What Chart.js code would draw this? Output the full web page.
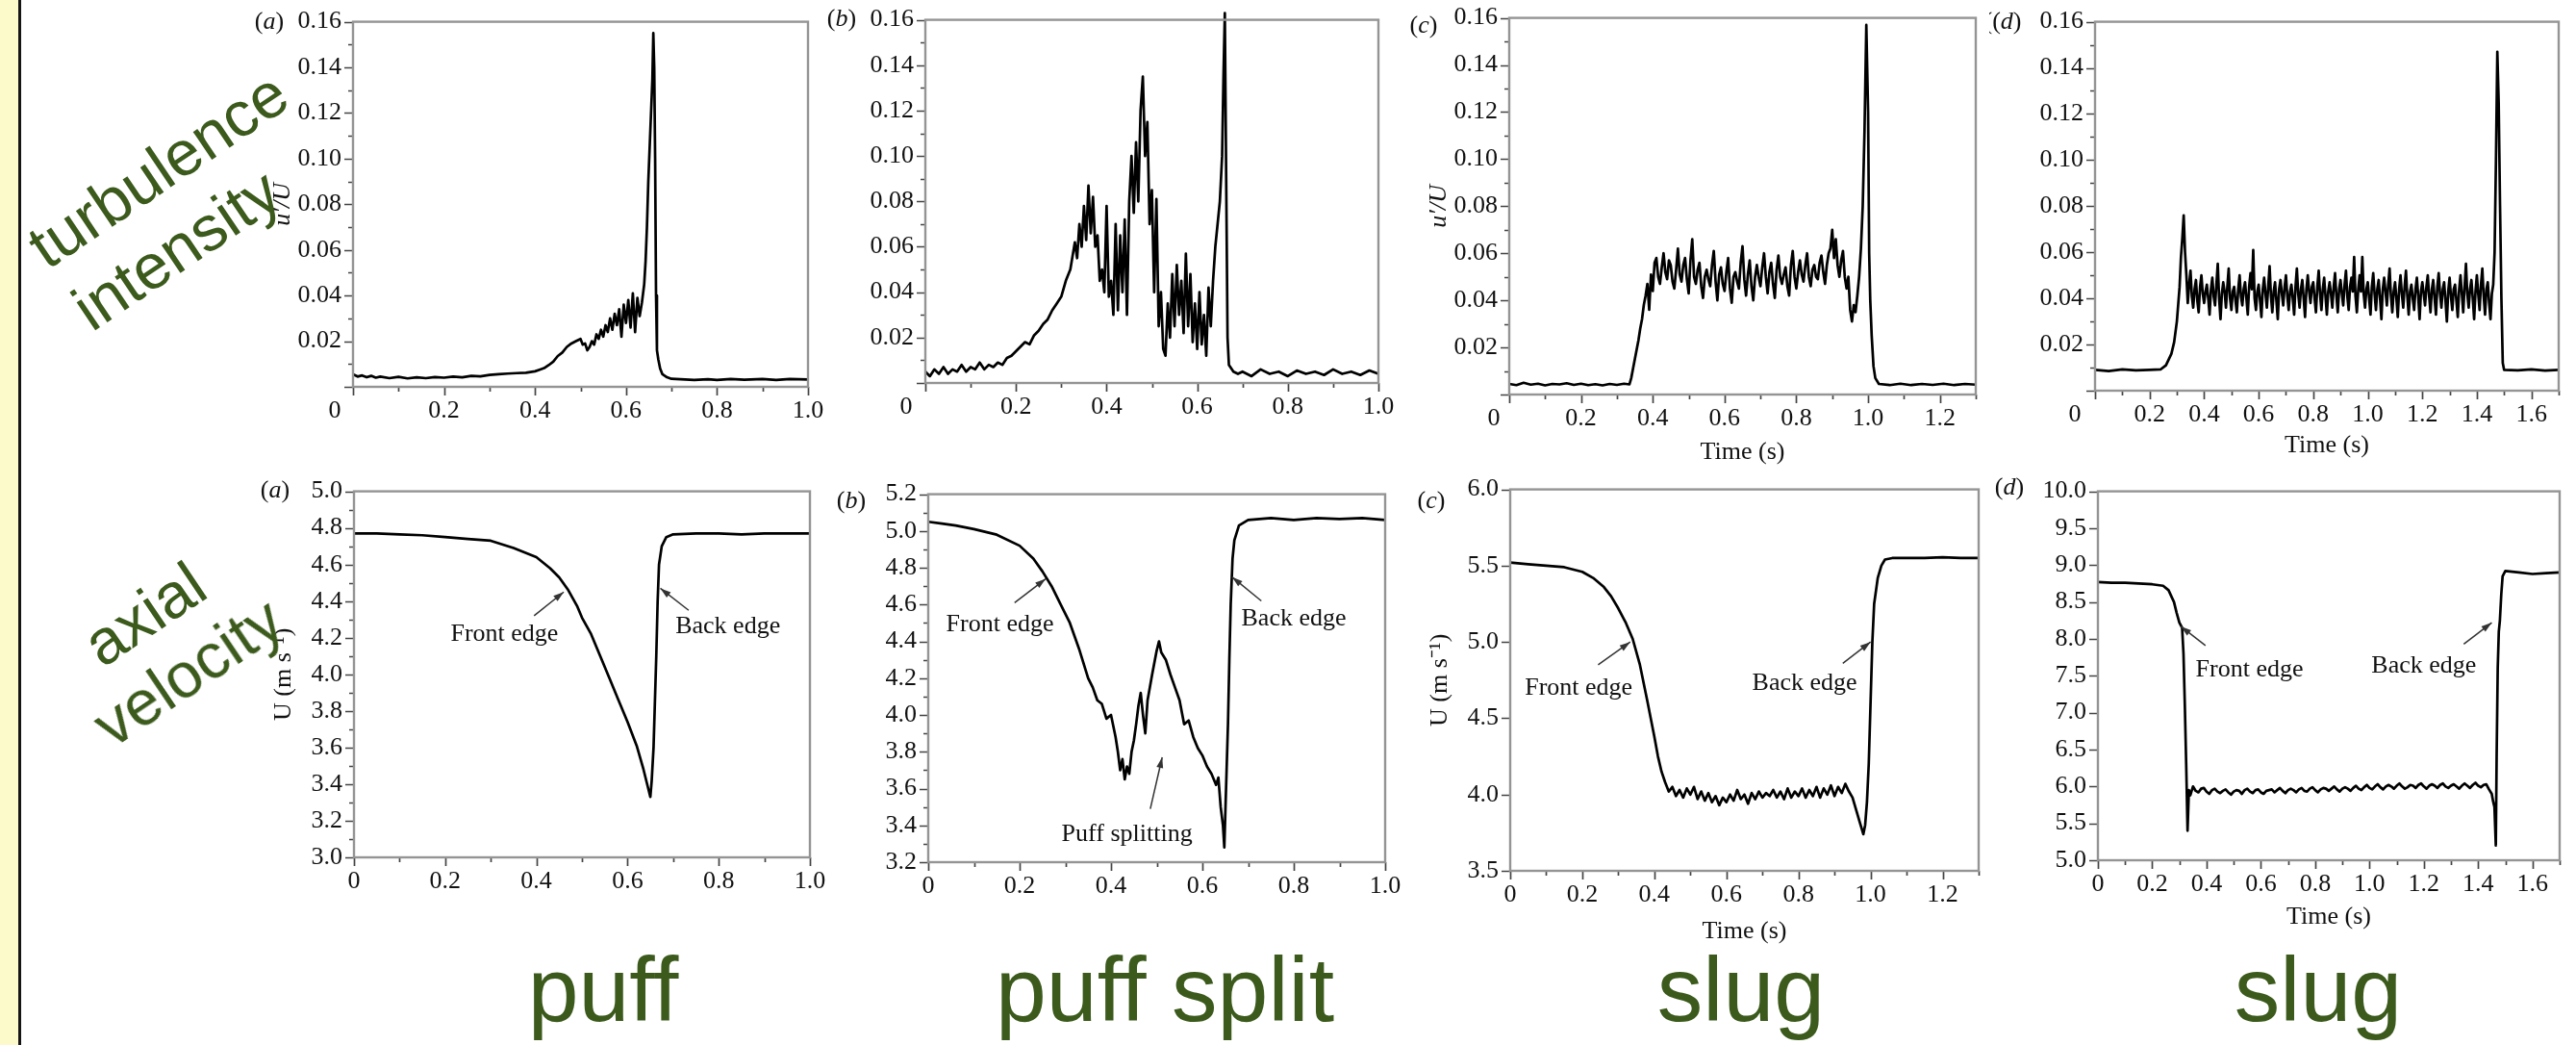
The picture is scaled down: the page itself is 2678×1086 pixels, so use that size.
<!DOCTYPE html>
<html>
<head>
<meta charset="utf-8">
<title>Puff and slug signals</title>
<script src="https://cdn.jsdelivr.net/npm/chart.js@4.4.1/dist/chart.umd.min.js"></script>
<style>
  html, body { margin: 0; padding: 0; }
  body { width: 2678px; height: 1086px; position: relative; overflow: hidden; background: #fff; }
  .strip { position: absolute; left: 0; top: 0; width: 19px; height: 1086px; background: #fcf9cb; border-right: 3px solid #151515; }
  canvas { position: absolute; }
  .tag { position: absolute; z-index: 2; color: #3b5a1c; font-family: 'Liberation Sans', Arial, sans-serif; white-space: nowrap; line-height: 1; }
  .side { font-size: 66px; transform: translate(-50%, -50%) rotate(-34deg); }
  .kind { font-size: 95px; transform: translateX(-50%); top: 981px; }
</style>
</head>
<body>
<div class="strip"></div>
<div class="tag side" style="left:164px;top:176px">turbulence</div>
<div class="tag side" style="left:183px;top:259px">intensity</div>
<div class="tag side" style="left:150px;top:638px">axial</div>
<div class="tag side" style="left:195px;top:698px">velocity</div>
<div class="tag kind" style="left:627px">puff</div>
<div class="tag kind" style="left:1211px">puff split</div>
<div class="tag kind" style="left:1810px">slug</div>
<div class="tag kind" style="left:2410px">slug</div>

<script>
// ---- data: [time (s), value] ----

// turbulence intensity u'/U
const puffTurb = [
  [0,0.0055],[0.01,0.0045],[0.02,0.005],[0.03,0.0042],[0.04,0.0048],[0.05,0.004],[0.06,0.0045],[0.08,0.0038],
  [0.1,0.0044],[0.12,0.0037],[0.14,0.0042],[0.16,0.0038],[0.18,0.0043],[0.2,0.004],[0.22,0.0045],[0.24,0.0042],
  [0.26,0.0048],[0.28,0.0046],[0.3,0.0052],[0.32,0.0055],[0.34,0.0058],[0.36,0.006],[0.38,0.0062],[0.39,0.0065],
  [0.4,0.0068],[0.41,0.0075],[0.42,0.0082],[0.43,0.0095],[0.44,0.011],[0.45,0.0135],[0.46,0.015],[0.47,0.0175],
  [0.48,0.019],[0.49,0.02],[0.5,0.021],[0.505,0.0185],[0.51,0.019],[0.515,0.016],[0.52,0.0175],[0.525,0.02],
  [0.53,0.0185],[0.535,0.023],[0.54,0.021],[0.545,0.025],[0.55,0.022],[0.555,0.027],[0.56,0.024],[0.565,0.03],
  [0.57,0.025],[0.575,0.032],[0.58,0.027],[0.585,0.034],[0.59,0.022],[0.595,0.036],[0.6,0.028],[0.605,0.038],
  [0.61,0.026],[0.615,0.041],[0.62,0.024],[0.625,0.039],[0.63,0.031],[0.635,0.037],[0.64,0.045],[0.643,0.055],
  [0.646,0.07],[0.649,0.09],[0.652,0.105],[0.655,0.12],[0.658,0.135],[0.66,0.155],[0.662,0.14],[0.664,0.1],
  [0.666,0.04],[0.668,0.016],[0.671,0.012],[0.675,0.008],[0.68,0.0055],[0.69,0.0042],[0.7,0.0035],[0.72,0.0033],
  [0.75,0.003],[0.78,0.0033],[0.8,0.003],[0.83,0.0034],[0.86,0.0031],[0.9,0.0034],[0.93,0.003],[0.96,0.0034],[1.0,0.0032]
];

const puffSplitTurb = [
  [0,0.005],[0.01,0.003],[0.02,0.006],[0.03,0.004],[0.04,0.007],[0.05,0.004],[0.06,0.006],[0.07,0.005],
  [0.08,0.008],[0.09,0.005],[0.1,0.007],[0.11,0.006],[0.12,0.009],[0.13,0.006],[0.14,0.008],[0.15,0.007],
  [0.16,0.009],[0.17,0.008],[0.18,0.011],[0.19,0.012],[0.2,0.014],[0.21,0.016],[0.22,0.018],[0.23,0.017],
  [0.24,0.021],[0.25,0.023],[0.26,0.026],[0.27,0.028],[0.28,0.032],[0.29,0.035],[0.3,0.038],[0.31,0.045],
  [0.32,0.05],[0.33,0.062],[0.335,0.055],[0.34,0.07],[0.345,0.06],[0.35,0.078],[0.355,0.063],[0.36,0.087],
  [0.365,0.066],[0.37,0.082],[0.375,0.06],[0.38,0.065],[0.385,0.045],[0.39,0.05],[0.395,0.04],[0.4,0.078],
  [0.405,0.038],[0.41,0.045],[0.415,0.03],[0.42,0.07],[0.425,0.032],[0.43,0.065],[0.435,0.04],[0.44,0.072],
  [0.445,0.03],[0.45,0.08],[0.455,0.1],[0.46,0.075],[0.465,0.106],[0.47,0.08],[0.475,0.12],[0.48,0.135],
  [0.485,0.1],[0.49,0.115],[0.495,0.07],[0.5,0.085],[0.505,0.04],[0.51,0.081],[0.515,0.025],[0.52,0.04],
  [0.525,0.015],[0.53,0.012],[0.535,0.035],[0.54,0.02],[0.545,0.048],[0.55,0.025],[0.555,0.052],[0.56,0.03],
  [0.565,0.045],[0.57,0.022],[0.575,0.057],[0.58,0.025],[0.585,0.048],[0.59,0.018],[0.595,0.035],[0.6,0.015],
  [0.605,0.04],[0.61,0.017],[0.615,0.03],[0.62,0.012],[0.625,0.042],[0.63,0.025],[0.635,0.045],[0.64,0.06],
  [0.645,0.07],[0.65,0.08],[0.655,0.1],[0.658,0.135],[0.661,0.163],[0.664,0.09],[0.667,0.02],[0.67,0.008],
  [0.68,0.005],[0.69,0.004],[0.7,0.005],[0.72,0.003],[0.74,0.006],[0.76,0.004],[0.78,0.005],[0.8,0.003],
  [0.82,0.0055],[0.84,0.004],[0.86,0.005],[0.88,0.0035],[0.9,0.006],[0.92,0.004],[0.94,0.005],[0.96,0.0035],
  [0.98,0.0055],[1.0,0.004]
];

const slugATurb = [
  [0,0.0045],[0.02,0.004],[0.04,0.005],[0.06,0.0042],[0.08,0.0046],[0.1,0.0039],[0.12,0.0045],[0.14,0.0043],
  [0.16,0.0048],[0.18,0.0041],[0.2,0.0046],[0.22,0.004],[0.24,0.0044],[0.26,0.0039],[0.28,0.0045],[0.3,0.0041],
  [0.32,0.0046],[0.335,0.0043],[0.34,0.007],[0.345,0.011],[0.35,0.015],[0.355,0.019],[0.36,0.023],[0.365,0.028],
  [0.37,0.032],[0.375,0.038],[0.38,0.042],[0.385,0.047],[0.39,0.036],[0.395,0.051],[0.4,0.044],[0.405,0.056],
  [0.41,0.058],[0.415,0.05],[0.42,0.047],[0.425,0.054],[0.43,0.06],[0.435,0.052],[0.44,0.049],[0.445,0.057],
  [0.45,0.055],[0.455,0.048],[0.46,0.045],[0.465,0.053],[0.47,0.062],[0.475,0.051],[0.48,0.048],[0.485,0.055],
  [0.49,0.058],[0.495,0.049],[0.5,0.043],[0.505,0.057],[0.51,0.066],[0.515,0.05],[0.52,0.047],[0.525,0.053],
  [0.53,0.056],[0.535,0.046],[0.54,0.041],[0.545,0.05],[0.55,0.053],[0.555,0.049],[0.56,0.046],[0.565,0.055],
  [0.57,0.061],[0.575,0.048],[0.58,0.04],[0.585,0.051],[0.59,0.054],[0.595,0.047],[0.6,0.044],[0.605,0.052],
  [0.61,0.058],[0.615,0.045],[0.62,0.039],[0.625,0.05],[0.63,0.052],[0.635,0.048],[0.64,0.045],[0.645,0.056],
  [0.65,0.063],[0.655,0.049],[0.66,0.042],[0.665,0.051],[0.67,0.057],[0.675,0.046],[0.68,0.04],[0.685,0.05],
  [0.69,0.055],[0.695,0.05],[0.7,0.046],[0.705,0.054],[0.71,0.06],[0.715,0.05],[0.72,0.043],[0.725,0.052],
  [0.73,0.056],[0.735,0.047],[0.74,0.041],[0.745,0.053],[0.75,0.059],[0.755,0.05],[0.76,0.047],[0.765,0.051],
  [0.77,0.054],[0.775,0.046],[0.78,0.042],[0.785,0.055],[0.79,0.061],[0.795,0.05],[0.8,0.045],[0.805,0.052],
  [0.81,0.057],[0.815,0.051],[0.82,0.048],[0.825,0.055],[0.83,0.06],[0.835,0.05],[0.84,0.046],[0.845,0.053],
  [0.85,0.055],[0.855,0.05],[0.86,0.049],[0.865,0.056],[0.87,0.059],[0.875,0.052],[0.88,0.047],[0.885,0.055],
  [0.89,0.06],[0.895,0.062],[0.9,0.07],[0.905,0.058],[0.91,0.066],[0.915,0.055],[0.92,0.05],[0.925,0.057],
  [0.93,0.061],[0.935,0.05],[0.94,0.045],[0.945,0.05],[0.95,0.036],[0.955,0.031],[0.96,0.038],[0.965,0.035],
  [0.97,0.042],[0.975,0.05],[0.98,0.062],[0.985,0.08],[0.99,0.112],[0.995,0.157],[1.0,0.12],[1.003,0.06],
  [1.006,0.04],[1.01,0.025],[1.015,0.012],[1.02,0.007],[1.03,0.0045],[1.06,0.004],[1.09,0.0046],[1.12,0.004],
  [1.15,0.0045],[1.18,0.0041],[1.21,0.0046],[1.24,0.004],[1.27,0.0045],[1.3,0.0042]
];

const slugBTurb = [
  [0,0.009],[0.05,0.0085],[0.1,0.0092],[0.15,0.0088],[0.2,0.009],[0.24,0.0092],[0.26,0.011],[0.28,0.016],
  [0.29,0.021],[0.3,0.03],[0.31,0.045],[0.315,0.058],[0.32,0.066],[0.325,0.076],[0.33,0.06],[0.335,0.05],
  [0.34,0.038],[0.345,0.046],[0.35,0.052],[0.355,0.041],[0.36,0.036],[0.365,0.044],[0.37,0.048],[0.375,0.039],
  [0.38,0.034],[0.385,0.045],[0.39,0.05],[0.395,0.042],[0.4,0.038],[0.405,0.043],[0.41,0.046],[0.415,0.04],
  [0.42,0.033],[0.425,0.044],[0.43,0.049],[0.435,0.041],[0.44,0.037],[0.445,0.046],[0.45,0.055],[0.455,0.04],
  [0.46,0.031],[0.465,0.042],[0.47,0.047],[0.475,0.043],[0.48,0.036],[0.485,0.045],[0.49,0.053],[0.495,0.04],
  [0.5,0.035],[0.505,0.043],[0.51,0.045],[0.515,0.039],[0.52,0.034],[0.525,0.044],[0.53,0.05],[0.535,0.041],
  [0.54,0.037],[0.545,0.044],[0.55,0.047],[0.555,0.04],[0.56,0.033],[0.565,0.045],[0.57,0.051],[0.575,0.044],
  [0.58,0.061],[0.585,0.04],[0.59,0.035],[0.595,0.043],[0.6,0.046],[0.605,0.039],[0.61,0.032],[0.615,0.044],
  [0.62,0.049],[0.625,0.042],[0.63,0.036],[0.635,0.045],[0.64,0.054],[0.645,0.041],[0.65,0.034],[0.655,0.043],
  [0.66,0.047],[0.665,0.039],[0.67,0.031],[0.675,0.044],[0.68,0.048],[0.685,0.042],[0.69,0.037],[0.695,0.045],
  [0.7,0.05],[0.705,0.041],[0.71,0.035],[0.715,0.043],[0.72,0.046],[0.725,0.04],[0.73,0.033],[0.735,0.045],
  [0.74,0.053],[0.745,0.042],[0.75,0.036],[0.755,0.044],[0.76,0.048],[0.765,0.04],[0.77,0.032],[0.775,0.044],
  [0.78,0.05],[0.785,0.043],[0.79,0.038],[0.795,0.045],[0.8,0.047],[0.805,0.04],[0.81,0.034],[0.815,0.045],
  [0.82,0.052],[0.825,0.042],[0.83,0.035],[0.835,0.044],[0.84,0.049],[0.845,0.041],[0.85,0.033],[0.855,0.043],
  [0.86,0.047],[0.865,0.042],[0.87,0.036],[0.875,0.045],[0.88,0.051],[0.885,0.041],[0.89,0.034],[0.895,0.044],
  [0.9,0.048],[0.905,0.042],[0.91,0.037],[0.915,0.046],[0.92,0.052],[0.925,0.041],[0.93,0.035],[0.935,0.045],
  [0.94,0.049],[0.945,0.043],[0.95,0.058],[0.955,0.041],[0.96,0.034],[0.965,0.044],[0.97,0.05],[0.975,0.043],
  [0.98,0.058],[0.985,0.042],[0.99,0.036],[0.995,0.044],[1.0,0.047],[1.005,0.04],[1.01,0.033],[1.015,0.045],
  [1.02,0.051],[1.025,0.042],[1.03,0.035],[1.035,0.044],[1.04,0.048],[1.045,0.04],[1.05,0.031],[1.055,0.044],
  [1.06,0.049],[1.065,0.043],[1.07,0.037],[1.075,0.046],[1.08,0.053],[1.085,0.041],[1.09,0.034],[1.095,0.043],
  [1.1,0.047],[1.105,0.04],[1.11,0.032],[1.115,0.044],[1.12,0.05],[1.125,0.042],[1.13,0.036],[1.135,0.045],
  [1.14,0.052],[1.145,0.041],[1.15,0.033],[1.155,0.043],[1.16,0.046],[1.165,0.04],[1.17,0.035],[1.175,0.044],
  [1.18,0.049],[1.185,0.041],[1.19,0.031],[1.195,0.043],[1.2,0.047],[1.205,0.042],[1.21,0.037],[1.215,0.045],
  [1.22,0.05],[1.225,0.041],[1.23,0.034],[1.235,0.044],[1.24,0.048],[1.245,0.04],[1.25,0.033],[1.255,0.045],
  [1.26,0.051],[1.265,0.042],[1.27,0.036],[1.275,0.044],[1.28,0.047],[1.285,0.039],[1.29,0.03],[1.295,0.043],
  [1.3,0.049],[1.305,0.041],[1.31,0.035],[1.315,0.044],[1.32,0.046],[1.325,0.039],[1.33,0.032],[1.335,0.044],
  [1.34,0.05],[1.345,0.042],[1.35,0.034],[1.355,0.045],[1.36,0.055],[1.365,0.042],[1.37,0.036],[1.375,0.044],
  [1.38,0.048],[1.385,0.04],[1.39,0.031],[1.395,0.043],[1.4,0.05],[1.405,0.042],[1.41,0.035],[1.415,0.046],
  [1.42,0.053],[1.425,0.041],[1.43,0.033],[1.435,0.044],[1.44,0.047],[1.445,0.038],[1.45,0.031],[1.455,0.042],
  [1.46,0.046],[1.465,0.06],[1.47,0.1],[1.475,0.147],[1.48,0.125],[1.485,0.08],[1.49,0.04],[1.495,0.012],
  [1.5,0.009],[1.55,0.0088],[1.6,0.0092],[1.65,0.0087],[1.7,0.009]
];

// axial velocity U (m/s)
const puffVel = [
  [0,4.77],[0.05,4.77],[0.1,4.765],[0.15,4.76],[0.2,4.75],[0.25,4.74],[0.3,4.73],[0.35,4.69],[0.4,4.64],
  [0.43,4.58],[0.45,4.53],[0.47,4.46],[0.49,4.37],[0.5,4.31],[0.52,4.22],[0.54,4.1],[0.56,3.98],[0.58,3.86],
  [0.6,3.74],[0.62,3.61],[0.635,3.48],[0.645,3.38],[0.65,3.33],[0.653,3.42],[0.657,3.6],[0.66,3.85],
  [0.663,4.1],[0.666,4.4],[0.669,4.6],[0.675,4.7],[0.685,4.75],[0.7,4.765],[0.75,4.77],[0.8,4.77],
  [0.85,4.765],[0.9,4.77],[0.95,4.77],[1.0,4.77]
];

const puffSplitVel = [
  [0,5.05],[0.03,5.04],[0.06,5.03],[0.1,5.01],[0.15,4.98],[0.2,4.92],[0.23,4.85],[0.25,4.78],[0.27,4.7],
  [0.29,4.6],[0.31,4.5],[0.33,4.36],[0.35,4.2],[0.36,4.15],[0.37,4.08],[0.38,4.06],[0.39,3.98],[0.4,4.0],
  [0.41,3.88],[0.415,3.8],[0.42,3.7],[0.425,3.76],[0.43,3.65],[0.435,3.72],[0.44,3.68],[0.445,3.8],
  [0.45,3.86],[0.455,3.95],[0.46,4.05],[0.465,4.12],[0.47,4.0],[0.475,3.9],[0.48,4.08],[0.49,4.22],
  [0.5,4.35],[0.505,4.4],[0.51,4.34],[0.52,4.3],[0.53,4.22],[0.54,4.15],[0.55,4.08],[0.56,3.95],[0.57,3.97],
  [0.58,3.88],[0.59,3.82],[0.6,3.78],[0.61,3.72],[0.62,3.68],[0.63,3.62],[0.635,3.66],[0.64,3.5],
  [0.645,3.4],[0.648,3.28],[0.65,3.45],[0.653,3.7],[0.656,3.95],[0.659,4.3],[0.662,4.6],[0.666,4.85],
  [0.67,4.95],[0.68,5.03],[0.7,5.06],[0.75,5.07],[0.8,5.06],[0.85,5.07],[0.9,5.065],[0.95,5.07],[1.0,5.06]
];

const slugAVel = [
  [0,5.52],[0.05,5.51],[0.1,5.5],[0.15,5.49],[0.2,5.46],[0.23,5.42],[0.26,5.36],[0.28,5.3],[0.3,5.22],
  [0.32,5.13],[0.34,5.02],[0.36,4.85],[0.38,4.62],[0.4,4.38],[0.41,4.25],[0.42,4.15],[0.43,4.08],[0.44,4.02],
  [0.45,4.05],[0.46,3.99],[0.47,4.03],[0.48,3.98],[0.49,4.04],[0.5,4.0],[0.51,4.05],[0.52,3.97],[0.53,4.02],
  [0.54,3.96],[0.55,4.01],[0.56,3.95],[0.57,3.99],[0.58,3.93],[0.59,3.98],[0.6,3.95],[0.61,4.0],[0.62,3.96],
  [0.63,4.03],[0.64,3.97],[0.65,4.0],[0.66,3.94],[0.67,4.01],[0.68,3.97],[0.69,4.02],[0.7,3.98],[0.71,4.01],
  [0.72,3.99],[0.73,4.03],[0.74,3.98],[0.75,4.02],[0.76,3.97],[0.77,4.04],[0.78,3.98],[0.79,4.02],[0.8,3.99],
  [0.81,4.04],[0.82,3.98],[0.83,4.03],[0.84,3.99],[0.85,4.05],[0.86,3.98],[0.87,4.04],[0.88,4.0],[0.89,4.06],
  [0.9,3.99],[0.91,4.05],[0.92,4.01],[0.93,4.07],[0.94,4.02],[0.95,3.98],[0.96,3.9],[0.97,3.82],[0.98,3.74],
  [0.985,3.8],[0.99,3.95],[0.995,4.2],[1.0,4.6],[1.005,5.0],[1.01,5.25],[1.02,5.42],[1.03,5.5],[1.04,5.54],
  [1.06,5.55],[1.1,5.55],[1.15,5.55],[1.2,5.555],[1.25,5.55],[1.3,5.55]
];

const slugBVel = [
  [0,8.77],[0.05,8.76],[0.1,8.76],[0.15,8.75],[0.2,8.74],[0.24,8.72],[0.26,8.66],[0.28,8.5],[0.29,8.35],
  [0.3,8.22],[0.31,8.15],[0.315,7.8],[0.32,7.1],[0.325,6.3],[0.33,5.4],[0.335,5.95],[0.34,5.88],[0.35,6.0],
  [0.36,5.94],[0.37,5.92],[0.38,5.97],[0.39,5.98],[0.4,5.93],[0.41,5.9],[0.42,5.95],[0.43,5.97],[0.44,5.93],
  [0.45,5.91],[0.46,5.94],[0.47,5.96],[0.48,5.92],[0.49,5.89],[0.5,5.93],[0.51,5.95],[0.52,5.94],[0.53,5.9],
  [0.54,5.95],[0.55,5.97],[0.56,5.93],[0.57,5.91],[0.58,5.95],[0.59,5.96],[0.6,5.92],[0.61,5.9],[0.62,5.94],
  [0.63,5.95],[0.64,5.96],[0.65,5.92],[0.66,5.95],[0.67,5.98],[0.68,5.94],[0.69,5.91],[0.7,5.95],[0.71,5.97],
  [0.72,5.95],[0.73,5.92],[0.74,5.96],[0.75,5.98],[0.76,5.94],[0.77,5.93],[0.78,5.97],[0.79,5.99],[0.8,5.95],
  [0.81,5.92],[0.82,5.96],[0.83,5.98],[0.84,5.97],[0.85,5.94],[0.86,5.97],[0.87,6.0],[0.88,5.96],[0.89,5.93],
  [0.9,5.97],[0.91,5.99],[0.92,5.97],[0.93,5.94],[0.94,5.98],[0.95,6.01],[0.96,5.97],[0.97,5.95],[0.98,5.99],
  [0.99,6.02],[1.0,5.98],[1.01,5.96],[1.02,6.0],[1.03,6.03],[1.04,5.99],[1.05,5.96],[1.06,6.0],[1.07,6.02],
  [1.08,6.0],[1.09,5.97],[1.1,6.01],[1.11,6.04],[1.12,6.0],[1.13,5.97],[1.14,5.99],[1.15,6.02],[1.16,6.01],
  [1.17,5.98],[1.18,6.02],[1.19,6.04],[1.2,6.0],[1.21,5.97],[1.22,6.01],[1.23,6.03],[1.24,6.01],[1.25,5.98],
  [1.26,6.02],[1.27,6.04],[1.28,6.0],[1.29,5.98],[1.3,6.01],[1.31,6.03],[1.32,6.0],[1.33,5.97],[1.34,6.01],
  [1.35,6.04],[1.36,6.01],[1.37,5.98],[1.38,6.02],[1.39,6.05],[1.4,6.01],[1.41,5.99],[1.42,6.02],[1.43,6.03],
  [1.44,5.96],[1.45,5.9],[1.455,5.8],[1.46,5.72],[1.465,5.2],[1.468,6.4],[1.472,7.6],[1.476,8.1],[1.48,8.25],
  [1.485,8.6],[1.49,8.85],[1.5,8.92],[1.55,8.9],[1.6,8.88],[1.65,8.89],[1.7,8.9]
];

// annotations (text anchor and arrow, in data units)
const puffNotes = [
  { text: 'Front edge', at: [0.33, 4.22], from: [0.395, 4.32], to: [0.46, 4.45] },
  { text: 'Back edge', at: [0.82, 4.26], from: [0.734, 4.35], to: [0.672, 4.47] }
];
const puffSplitNotes = [
  { text: 'Front edge', at: [0.157, 4.49], from: [0.189, 4.61], to: [0.257, 4.74] },
  { text: 'Back edge', at: [0.8, 4.52], from: [0.729, 4.62], to: [0.665, 4.75] },
  { text: 'Puff splitting', at: [0.435, 3.35], from: [0.486, 3.49], to: [0.512, 3.77] }
];
const slugANotes = [
  { text: 'Front edge', at: [0.19, 4.7], from: [0.244, 4.85], to: [0.333, 5.0] },
  { text: 'Back edge', at: [0.817, 4.73], from: [0.923, 4.86], to: [1.0, 5.0] }
];
const slugBNotes = [
  { text: 'Front edge', at: [0.558, 7.58], from: [0.396, 7.91], to: [0.305, 8.17] },
  { text: 'Back edge', at: [1.2, 7.63], from: [1.347, 7.93], to: [1.45, 8.22] }
];

// ---- layout ----
const INK = '#111';
const SERIF = "'Liberation Serif', 'Times New Roman', serif";
const PAD_L = 110, PAD_R = 30, PAD_T = 26, PAD_B = 80, Y_W = 100;

Chart.defaults.font.family = SERIF;
Chart.defaults.color = INK;

const isMajor = (v, m) => Math.abs(v / m - Math.round(v / m)) < 1e-6;

function drawTag(ctx, parts, cx, cy) {
  const fonts = ['26px ' + SERIF, 'italic 26px ' + SERIF, '26px ' + SERIF];
  const widths = parts.map((s, i) => { ctx.font = fonts[i]; return ctx.measureText(s).width; });
  let x = cx - widths.reduce((a, b) => a + b, 0) / 2;
  ctx.textAlign = 'left';
  ctx.textBaseline = 'middle';
  parts.forEach((s, i) => {
    ctx.font = fonts[i];
    ctx.fillText(s, x, cy);
    x += widths[i];
  });
}

// frame, minor/major ticks, panel letter and annotations
const framePlugin = {
  id: 'frame',
  afterDraw(chart, args, opts) {
    const { ctx, chartArea: a } = chart;
    const xs = chart.scales.x, ys = chart.scales.y;
    ctx.save();

    ctx.strokeStyle = '#444';
    ctx.lineWidth = 1.7;
    ctx.beginPath();
    xs.ticks.forEach(t => {
      const px = Math.round(xs.getPixelForValue(t.value)) + 0.5;
      const len = isMajor(t.value, opts.xMajor) ? 9 : 5;
      ctx.moveTo(px, a.bottom);
      ctx.lineTo(px, a.bottom + len);
    });
    ys.ticks.forEach(t => {
      const py = Math.round(ys.getPixelForValue(t.value)) + 0.5;
      const len = isMajor(t.value, opts.yMajor) ? 9 : 5;
      ctx.moveTo(a.left, py);
      ctx.lineTo(a.left - len, py);
    });
    ctx.stroke();

    ctx.strokeStyle = '#949494';
    ctx.lineWidth = 2.4;
    ctx.strokeRect(a.left, a.top, a.right - a.left, a.bottom - a.top);

    ctx.fillStyle = INK;
    if (opts.zeroShift) {
      ctx.font = '26px ' + SERIF;
      ctx.textAlign = 'center';
      ctx.textBaseline = 'middle';
      ctx.fillText('0', a.left + opts.zeroShift, a.bottom + 25.6);
    }
    drawTag(ctx, opts.tag, a.left + opts.tagAt[0], a.top + opts.tagAt[1]);

    (opts.notes || []).forEach(n => {
      ctx.font = '26px ' + SERIF;
      ctx.textAlign = 'center';
      ctx.textBaseline = 'middle';
      ctx.fillStyle = INK;
      ctx.fillText(n.text, xs.getPixelForValue(n.at[0]), ys.getPixelForValue(n.at[1]));
      const x0 = xs.getPixelForValue(n.from[0]), y0 = ys.getPixelForValue(n.from[1]);
      const x1 = xs.getPixelForValue(n.to[0]), y1 = ys.getPixelForValue(n.to[1]);
      const ang = Math.atan2(y1 - y0, x1 - x0);
      ctx.strokeStyle = '#333';
      ctx.lineWidth = 1.5;
      ctx.beginPath();
      ctx.moveTo(x0, y0);
      ctx.lineTo(x1, y1);
      ctx.stroke();
      ctx.fillStyle = '#333';
      ctx.beginPath();
      ctx.moveTo(x1, y1);
      ctx.lineTo(x1 - 11 * Math.cos(ang) + 3.5 * Math.sin(ang), y1 - 11 * Math.sin(ang) - 3.5 * Math.cos(ang));
      ctx.lineTo(x1 - 11 * Math.cos(ang) - 3.5 * Math.sin(ang), y1 - 11 * Math.sin(ang) + 3.5 * Math.cos(ang));
      ctx.closePath();
      ctx.fill();
    });
    ctx.restore();
  }
};

const panels = [
  { pts: puffTurb, box: [367, 840, 21, 402], xMax: 1.0, yMin: 0, yMax: 0.16, yStep: 0.01, yMajor: 0.02, digits: 2,
    yTitle: 'u\u2032/U', italic: true, tag: ['(', 'a', ')'], tagAt: [-87, 1], zeroShift: -19 },
  { pts: puffSplitTurb, box: [962, 1433, 19, 398], xMax: 1.0, yMin: 0, yMax: 0.16, yStep: 0.01, yMajor: 0.02, digits: 2,
    tag: ['(', 'b', ')'], tagAt: [-87, 0], zeroShift: -20 },
  { pts: slugATurb, box: [1569, 2054, 17, 410], xMax: 1.3, yMin: 0, yMax: 0.16, yStep: 0.01, yMajor: 0.02, digits: 2,
    yTitle: 'u\u2032/U', italic: true, xTitle: 'Time (s)', xTitleOff: 60, tag: ['(', 'c', ')'], tagAt: [-89, 9], zeroShift: -16 },
  { pts: slugBTurb, box: [2178, 2660, 21, 406], xMax: 1.7, yMin: 0, yMax: 0.16, yStep: 0.01, yMajor: 0.02, digits: 2,
    xTitle: 'Time (s)', xTitleOff: 57, tag: ['((', 'd', ')'], tagAt: [-96, 1], zeroShift: -21 },
  { pts: puffVel, box: [368, 842, 509, 891], xMax: 1.0, yMin: 3.0, yMax: 5.0, yStep: 0.1, yMajor: 0.2, digits: 1,
    yTitle: 'U (m s\u207B\u00B9)', tag: ['(', 'a', ')'], tagAt: [-82, 0], notes: puffNotes },
  { pts: puffSplitVel, box: [965, 1440, 512, 896], xMax: 1.0, yMin: 3.2, yMax: 5.2, yStep: 0.1, yMajor: 0.2, digits: 1,
    tag: ['(', 'b', ')'], tagAt: [-80, 8], notes: puffSplitNotes },
  { pts: slugAVel, box: [1570, 2057, 507, 905], xMax: 1.3, yMin: 3.5, yMax: 6.0, yStep: 0.5, yMajor: 0.5, digits: 1,
    yTitle: 'U (m s\u207B\u00B9)', xTitle: 'Time (s)', xTitleOff: 63, tag: ['(', 'c', ')'], tagAt: [-82, 13], notes: slugANotes },
  { pts: slugBVel, box: [2181, 2661, 509, 894], xMax: 1.7, yMin: 5.0, yMax: 10.0, yStep: 0.5, yMajor: 0.5, digits: 1,
    xTitle: 'Time (s)', xTitleOff: 59, tag: ['(', 'd', ')'], tagAt: [-92, -3], notes: slugBNotes }
];

function makePanel(p) {
  const [l, r, t, b] = p.box;
  const w = (r - l) + PAD_L + PAD_R;
  const h = (b - t) + PAD_T + PAD_B;
  const cv = document.createElement('canvas');
  cv.width = w;
  cv.height = h;
  cv.style.left = (l - PAD_L) + 'px';
  cv.style.top = (t - PAD_T) + 'px';
  cv.style.width = w + 'px';
  cv.style.height = h + 'px';
  document.body.appendChild(cv);

  new Chart(cv, {
    type: 'scatter',
    data: {
      datasets: [{
        data: p.pts.map(([x, y]) => ({ x, y })),
        showLine: true,
        borderColor: '#000',
        borderWidth: 2.7,
        borderJoinStyle: 'round',
        pointRadius: 0,
        tension: 0,
        clip: false
      }]
    },
    options: {
      responsive: false,
      animation: false,
      devicePixelRatio: 1,
      events: [],
      layout: { padding: { left: PAD_L - Y_W, top: PAD_T, right: PAD_R, bottom: 0 } },
      plugins: {
        legend: { display: false },
        tooltip: { enabled: false },
        frame: { xMajor: 0.2, yMajor: p.yMajor, tag: p.tag, tagAt: p.tagAt, zeroShift: p.zeroShift, notes: p.notes }
      },
      scales: {
        x: {
          type: 'linear',
          min: 0,
          max: p.xMax,
          afterFit(s) { s.height = PAD_B; },
          grid: { display: false, drawTicks: false },
          border: { display: false },
          ticks: {
            stepSize: 0.1,
            autoSkip: false,
            maxRotation: 0,
            padding: 10,
            color: INK,
            font: { size: 26 },
            callback(v) {
              if (!isMajor(v, 0.2)) return '';
              if (Math.abs(v) < 1e-9) return p.zeroShift ? '' : '0';
              return v.toFixed(1);
            }
          },
          title: {
            display: !!p.xTitle,
            text: p.xTitle || '',
            color: INK,
            font: { size: 26 },
            padding: { top: 0, bottom: PAD_B - (p.xTitleOff || 60) - 15.6 }
          }
        },
        y: {
          type: 'linear',
          min: p.yMin,
          max: p.yMax,
          afterFit(s) { s.width = Y_W; },
          grid: { display: false, drawTicks: false },
          border: { display: false },
          ticks: {
            stepSize: p.yStep,
            autoSkip: false,
            padding: 12,
            color: INK,
            font: { size: 26 },
            callback(v) {
              if (!isMajor(v, p.yMajor)) return '';
              if (p.digits === 2 && Math.abs(v) < 1e-9) return '';
              return v.toFixed(p.digits);
            }
          },
          title: {
            display: !!p.yTitle,
            text: p.yTitle || '',
            color: INK,
            font: { size: 26, style: p.italic ? 'italic' : 'normal' },
            padding: { top: Y_W - 73 - 15.6, bottom: 0 }
          }
        }
      }
    },
    plugins: [framePlugin]
  });
}

panels.forEach(makePanel);
</script>
</body>
</html>
